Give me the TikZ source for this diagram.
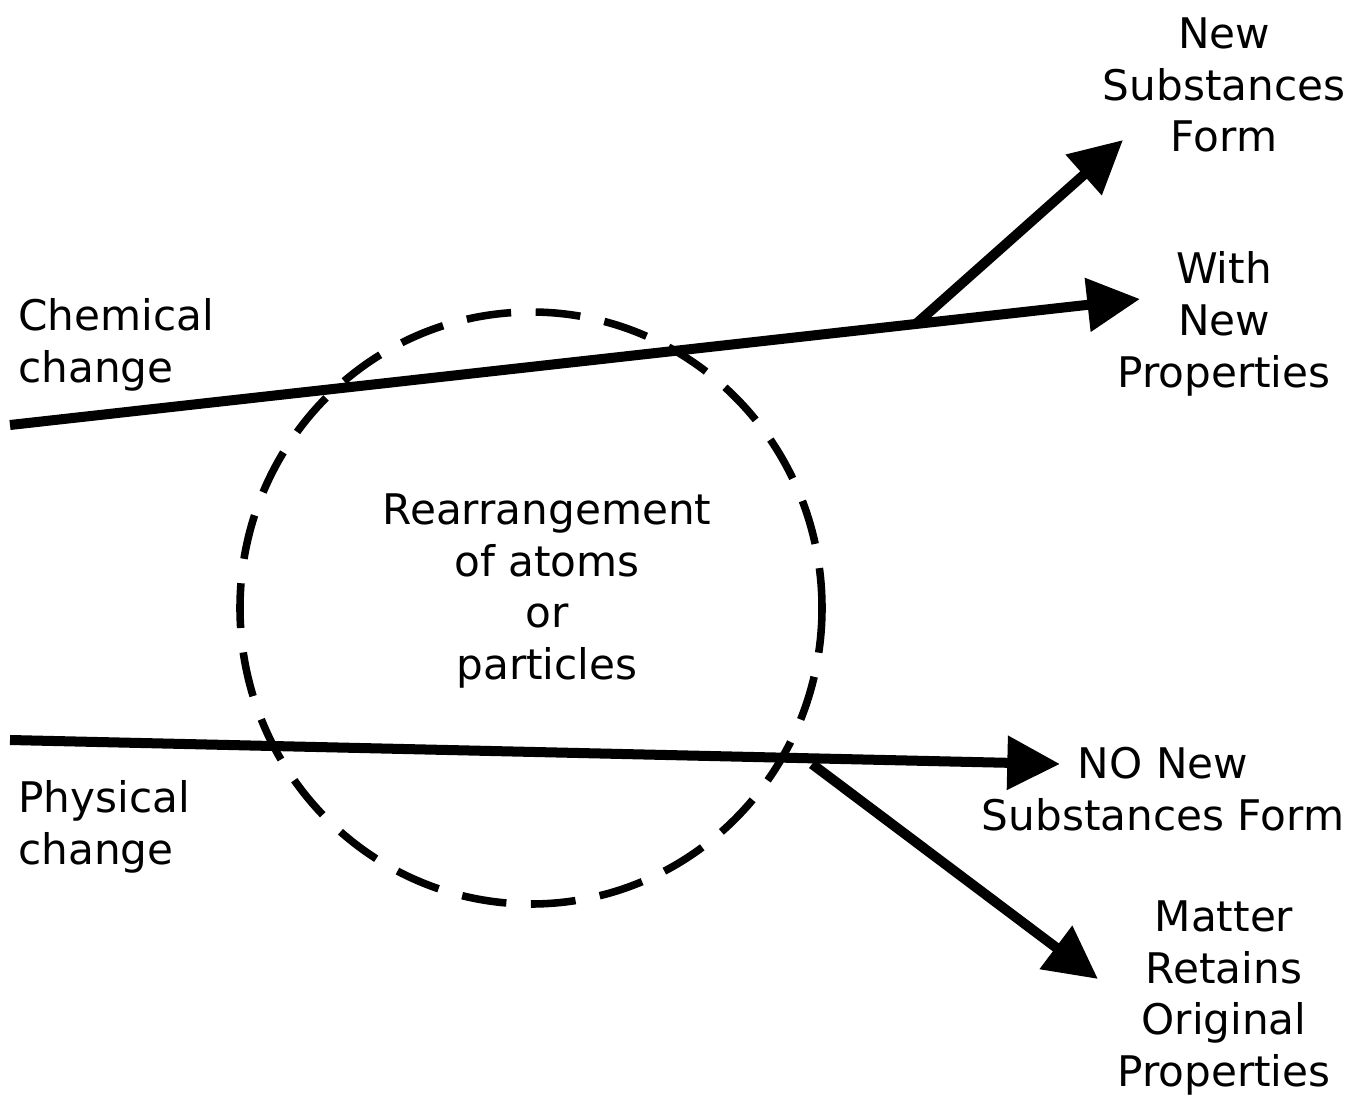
\documentclass[tikz,border=0pt]{standalone}
\usepackage{fontspec}
\setmainfont{DejaVu Sans}
\usetikzlibrary{arrows.meta}
\begin{document}
\begin{tikzpicture}[x=0.02cm,y=-0.02cm,
  lbl/.style={inner sep=0pt,align=center,font=\fontsize{24pt}{29.5pt}\selectfont},
  lbll/.style={lbl,align=left,anchor=west},
  thickarrow/.style={line width=5.7pt,-{Triangle[length=30pt,width=29.5pt]}},
  ringstyle/.style={line width=4.3pt,dash pattern=on 25.5pt off 14pt}]
\useasboundingbox (0,0) rectangle (1362,1098);
% dashed circle
\coordinate (rc) at (531,608);
\draw[ringstyle] (rc) ellipse [x radius=291,y radius=296];
% chemical
\coordinate (c0) at (10,425);
\coordinate (c1) at (1140,299);
\coordinate (cb) at (916,324);
\coordinate (c2) at (1123,140);
\draw[thickarrow] (c0) -- (c1);
\draw[thickarrow] (cb) -- (c2);
% physical
\coordinate (p0) at (10,740);
\coordinate (p1) at (1060,764);
\coordinate (pb) at (812,764);
\coordinate (p2) at (1098,979);
\draw[thickarrow] (p0) -- (p1);
\draw[thickarrow] (pb) -- (p2);
% labels
\node[lbl] (nsf) at (1224,85) {New\\Substances\\Form};
\node[lbl] (wnp) at (1224,324) {With\\New\\Properties};
\node[lbll] (chem) at (18,345) {Chemical\\change};
\node[lbl] (rear) at (547,591) {Rearrangement\\of atoms\\or\\particles};
\node[lbl] (nonew) at (1163,789) {NO New\\Substances Form};
\node[lbll] (phys) at (18,827) {Physical\\change};
\node[lbl] (mrop) at (1224,998) {Matter\\Retains\\Original\\Properties};
\end{tikzpicture}
\end{document}
